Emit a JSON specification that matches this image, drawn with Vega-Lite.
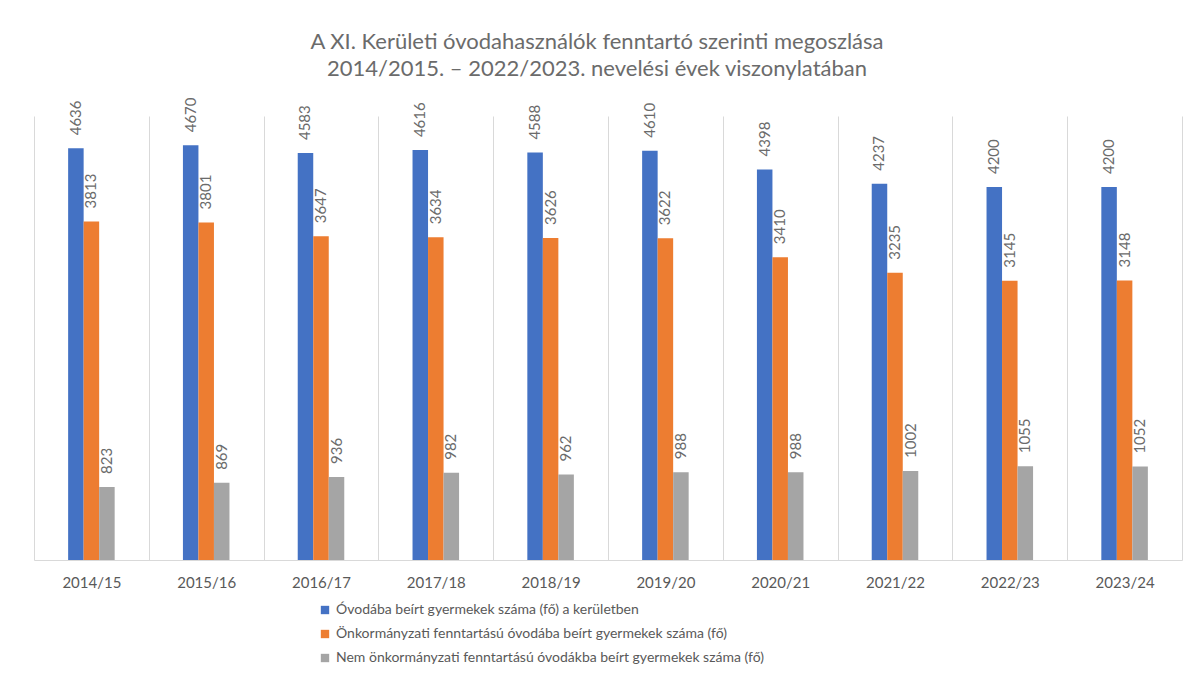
{
  "$schema": "https://vega.github.io/schema/vega-lite/v6.json",
  "width": 1148,
  "height": 444,
  "autosize": {"type": "none"},
  "padding": {"left": 34, "top": 116, "right": 13, "bottom": 122},
  "background": "white",
  "config": {"view": {"stroke": null}},
  "title": {
    "text": ["A XI. Kerületi óvodahasználók fenntartó szerinti megoszlása", "2014/2015. – 2022/2023. nevelési évek viszonylatában"],
    "font": "Lato",
    "fontSize": 22,
    "fontWeight": "normal",
    "color": "#6b6b6b",
    "lineHeight": 27,
    "offset": 17,
    "anchor": "middle",
    "dx": -11
  },
  "data": {
    "values": [
      {"ev": "2014/15", "sorozat": "Óvodába beírt gyermekek száma (fő) a kerületben", "ertek": 4636},
      {"ev": "2014/15", "sorozat": "Önkormányzati fenntartású óvodába beírt gyermekek száma (fő)", "ertek": 3813},
      {"ev": "2014/15", "sorozat": "Nem önkormányzati fenntartású óvodákba beírt gyermekek száma (fő)", "ertek": 823},
      {"ev": "2015/16", "sorozat": "Óvodába beírt gyermekek száma (fő) a kerületben", "ertek": 4670},
      {"ev": "2015/16", "sorozat": "Önkormányzati fenntartású óvodába beírt gyermekek száma (fő)", "ertek": 3801},
      {"ev": "2015/16", "sorozat": "Nem önkormányzati fenntartású óvodákba beírt gyermekek száma (fő)", "ertek": 869},
      {"ev": "2016/17", "sorozat": "Óvodába beírt gyermekek száma (fő) a kerületben", "ertek": 4583},
      {"ev": "2016/17", "sorozat": "Önkormányzati fenntartású óvodába beírt gyermekek száma (fő)", "ertek": 3647},
      {"ev": "2016/17", "sorozat": "Nem önkormányzati fenntartású óvodákba beírt gyermekek száma (fő)", "ertek": 936},
      {"ev": "2017/18", "sorozat": "Óvodába beírt gyermekek száma (fő) a kerületben", "ertek": 4616},
      {"ev": "2017/18", "sorozat": "Önkormányzati fenntartású óvodába beírt gyermekek száma (fő)", "ertek": 3634},
      {"ev": "2017/18", "sorozat": "Nem önkormányzati fenntartású óvodákba beírt gyermekek száma (fő)", "ertek": 982},
      {"ev": "2018/19", "sorozat": "Óvodába beírt gyermekek száma (fő) a kerületben", "ertek": 4588},
      {"ev": "2018/19", "sorozat": "Önkormányzati fenntartású óvodába beírt gyermekek száma (fő)", "ertek": 3626},
      {"ev": "2018/19", "sorozat": "Nem önkormányzati fenntartású óvodákba beírt gyermekek száma (fő)", "ertek": 962},
      {"ev": "2019/20", "sorozat": "Óvodába beírt gyermekek száma (fő) a kerületben", "ertek": 4610},
      {"ev": "2019/20", "sorozat": "Önkormányzati fenntartású óvodába beírt gyermekek száma (fő)", "ertek": 3622},
      {"ev": "2019/20", "sorozat": "Nem önkormányzati fenntartású óvodákba beírt gyermekek száma (fő)", "ertek": 988},
      {"ev": "2020/21", "sorozat": "Óvodába beírt gyermekek száma (fő) a kerületben", "ertek": 4398},
      {"ev": "2020/21", "sorozat": "Önkormányzati fenntartású óvodába beírt gyermekek száma (fő)", "ertek": 3410},
      {"ev": "2020/21", "sorozat": "Nem önkormányzati fenntartású óvodákba beírt gyermekek száma (fő)", "ertek": 988},
      {"ev": "2021/22", "sorozat": "Óvodába beírt gyermekek száma (fő) a kerületben", "ertek": 4237},
      {"ev": "2021/22", "sorozat": "Önkormányzati fenntartású óvodába beírt gyermekek száma (fő)", "ertek": 3235},
      {"ev": "2021/22", "sorozat": "Nem önkormányzati fenntartású óvodákba beírt gyermekek száma (fő)", "ertek": 1002},
      {"ev": "2022/23", "sorozat": "Óvodába beírt gyermekek száma (fő) a kerületben", "ertek": 4200},
      {"ev": "2022/23", "sorozat": "Önkormányzati fenntartású óvodába beírt gyermekek száma (fő)", "ertek": 3145},
      {"ev": "2022/23", "sorozat": "Nem önkormányzati fenntartású óvodákba beírt gyermekek száma (fő)", "ertek": 1055},
      {"ev": "2023/24", "sorozat": "Óvodába beírt gyermekek száma (fő) a kerületben", "ertek": 4200},
      {"ev": "2023/24", "sorozat": "Önkormányzati fenntartású óvodába beírt gyermekek száma (fő)", "ertek": 3148},
      {"ev": "2023/24", "sorozat": "Nem önkormányzati fenntartású óvodákba beírt gyermekek száma (fő)", "ertek": 1052}
    ]
  },
  "encoding": {
    "x": {
      "field": "ev",
      "type": "nominal",
      "sort": null,
      "scale": {"paddingInner": 0, "paddingOuter": 0},
      "axis": {
        "title": null,
        "labelAngle": 0,
        "grid": true,
        "tickBand": "extent",
        "gridColor": "#d9d9d9",
        "gridWidth": 1,
        "ticks": false,
        "domainColor": "#d9d9d9",
        "labelFont": "Lato",
        "labelFontSize": 15,
        "labelColor": "#595959",
        "labelPadding": 15
      }
    },
    "xOffset": {
      "field": "sorozat",
      "type": "nominal",
      "scale": {
        "domain": [
          "_p1", "_p2",
          "Óvodába beírt gyermekek száma (fő) a kerületben",
          "Önkormányzati fenntartású óvodába beírt gyermekek száma (fő)",
          "Nem önkormányzati fenntartású óvodákba beírt gyermekek száma (fő)",
          "_p3", "_p4"
        ],
        "paddingInner": 0,
        "paddingOuter": 0.2
      }
    },
    "y": {
      "field": "ertek",
      "type": "quantitative",
      "scale": {"domain": [0, 5000]},
      "axis": null
    }
  },
  "layer": [
    {
      "mark": {"type": "bar"},
      "encoding": {
        "color": {
          "field": "sorozat",
          "type": "nominal",
          "scale": {
            "domain": [
              "Óvodába beírt gyermekek száma (fő) a kerületben",
              "Önkormányzati fenntartású óvodába beírt gyermekek száma (fő)",
              "Nem önkormányzati fenntartású óvodákba beírt gyermekek száma (fő)"
            ],
            "range": ["#4472C4", "#ED7D31", "#A5A5A5"]
          },
          "legend": {
            "title": null,
            "orient": "none",
            "legendX": 284,
            "legendY": 487,
            "direction": "vertical",
            "symbolType": "square",
            "symbolSize": 70,
            "labelFont": "Lato",
            "labelFontSize": 14,
            "labelColor": "#595959",
            "labelLimit": 0,
            "rowPadding": 10,
            "labelOffset": 4
          }
        }
      }
    },
    {
      "mark": {
        "type": "text",
        "angle": -90,
        "align": "left",
        "baseline": "middle",
        "dx": 13,
        "font": "Lato",
        "fontSize": 15,
        "color": "#6b6b6b"
      },
      "encoding": {
        "text": {"field": "ertek", "type": "quantitative", "format": "d"}
      }
    }
  ]
}
